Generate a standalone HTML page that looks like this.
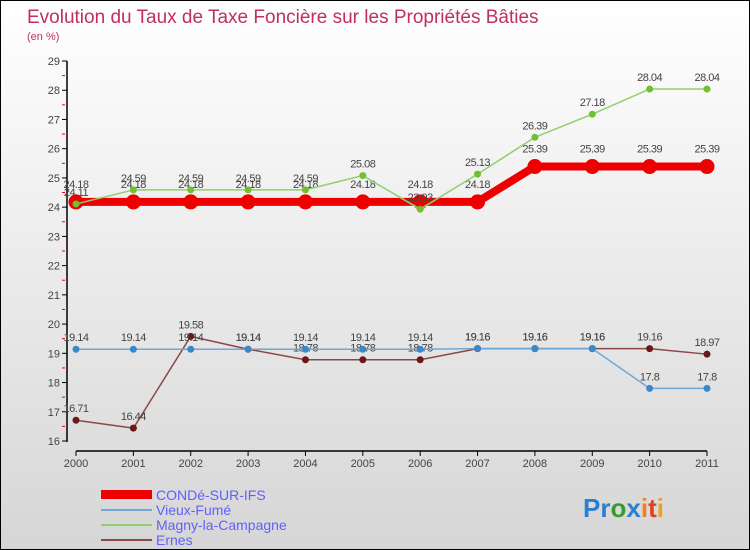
<!DOCTYPE html>
<html><head><meta charset="utf-8"><style>
body{margin:0}
#c{position:relative;width:748px;height:548px;border:1px solid #000;background:linear-gradient(#fff,#d6d6d6);font-family:"Liberation Sans",sans-serif;overflow:hidden}
svg text{font-family:"Liberation Sans",sans-serif}
</style></head><body>
<div id="c">
<svg id="s" width="748" height="548">
<text x="26" y="22" font-size="19" fill="#c0305a">Evolution du Taux de Taxe Foncière sur les Propriétés Bâties</text>
<text x="26" y="39" font-size="11" fill="#c0305a">(en %)</text>
<g id="ax"></g><g id="series"></g>
<g>
<rect x="100" y="489" width="51" height="9" fill="#e00"/>
<text x="155" y="499" font-size="14" fill="#6060ff">CONDé-SUR-IFS</text>
<line x1="100" y1="509" x2="151" y2="509" stroke="#6fa8d6" stroke-width="2"/>
<text x="155" y="514" font-size="14" fill="#6060ff">Vieux-Fumé</text>
<line x1="100" y1="524" x2="151" y2="524" stroke="#8fd070" stroke-width="2"/>
<text x="155" y="529" font-size="14" fill="#6060ff">Magny-la-Campagne</text>
<line x1="100" y1="539" x2="151" y2="539" stroke="#8a4848" stroke-width="2"/>
<text x="155" y="544" font-size="14" fill="#6060ff">Ernes</text>
</g>
<g font-size="26" font-weight="bold">
<text x="582" y="516"><tspan fill="#2a7fd0">Pr</tspan><tspan fill="#3a9a30">o</tspan><tspan fill="#2a7fd0">x</tspan><tspan fill="#f08020">i</tspan><tspan fill="#e04020">t</tspan><tspan fill="#f0a020">i</tspan></text>
</g>
</svg></div>
<script>
const years=[2000,2001,2002,2003,2004,2005,2006,2007,2008,2009,2010,2011];
const yTicks=[16,17,18,19,20,21,22,23,24,25,26,27,28,29];
const conde=[24.18,24.18,24.18,24.18,24.18,24.18,24.18,24.18,25.39,25.39,25.39,25.39];
const vieux=[19.14,19.14,19.14,19.14,19.14,19.14,19.14,19.16,19.16,19.16,17.8,17.8];
const magny=[24.11,24.59,24.59,24.59,24.59,25.08,23.93,25.13,26.39,27.18,28.04,28.04];
const ernes=[16.71,16.44,19.58,19.14,18.78,18.78,18.78,19.16,19.16,19.16,19.16,18.97];
const NS="http://www.w3.org/2000/svg";
const X=i=>75+i*(631/11);
const Y=v=>440-(v-16)*(380/13);
function mk(t,a,p){const e=document.createElementNS(NS,t);for(const k in a)e.setAttribute(k,a[k]);p.appendChild(e);return e;}
const ax=document.getElementById('ax');
mk('line',{x1:66,y1:60,x2:66,y2:441,stroke:'#000','stroke-width':1.5},ax);
mk('line',{x1:75,y1:450,x2:706,y2:450,stroke:'#000','stroke-width':1.5},ax);
yTicks.forEach((t,i)=>{
 const y=Y(t);
 mk('line',{x1:61,y1:y,x2:66,y2:y,stroke:'#000'},ax);
 if(i<yTicks.length-1)mk('line',{x1:61,y1:Y(t+0.5),x2:64,y2:Y(t+0.5),stroke:'#e00'},ax);
 const tx=mk('text',{x:59,y:y+4,'font-size':11,fill:'#444','text-anchor':'end'},ax);tx.textContent=t;
 
 
});
years.forEach((yr,i)=>{
 mk('line',{x1:X(i),y1:450,x2:X(i),y2:455,stroke:'#000'},ax);
 const tx=mk('text',{x:X(i),y:466,'font-size':11,fill:'#444','text-anchor':'middle'},ax);tx.textContent=yr;
 
 
});
const sg=document.getElementById('series');
function draw(name,vals,color,w,r,dot,labelOff){
 const g=mk('g',{},sg);
 
 
 const pl=mk('polyline',{points:vals.map((v,i)=>X(i)+','+Y(v)).join(' '),fill:'none',stroke:color,'stroke-width':w},g);
 
 
 vals.forEach((v,i)=>{
  const c=mk('circle',{cx:X(i),cy:Y(v),r:r,fill:dot},g);
  
  
  const t=mk('text',{x:X(i),y:Y(v)+labelOff,'font-size':11,fill:'#444','text-anchor':'middle','letter-spacing':'-0.5'},g);
  t.textContent=v;
  
  
 });
}
draw('ernes',ernes,'#8a4848',1.5,3.5,'#6a1818',-8);
draw('vieux',vieux,'#6fa8d6',1.5,3.5,'#3a88c8',-8);
draw('conde',conde,'#ee0000',8,7.5,'#ee0000',-14);
draw('magny',magny,'#8fd070',1.5,3.5,'#70c030',-8);
</script>
</body></html>
